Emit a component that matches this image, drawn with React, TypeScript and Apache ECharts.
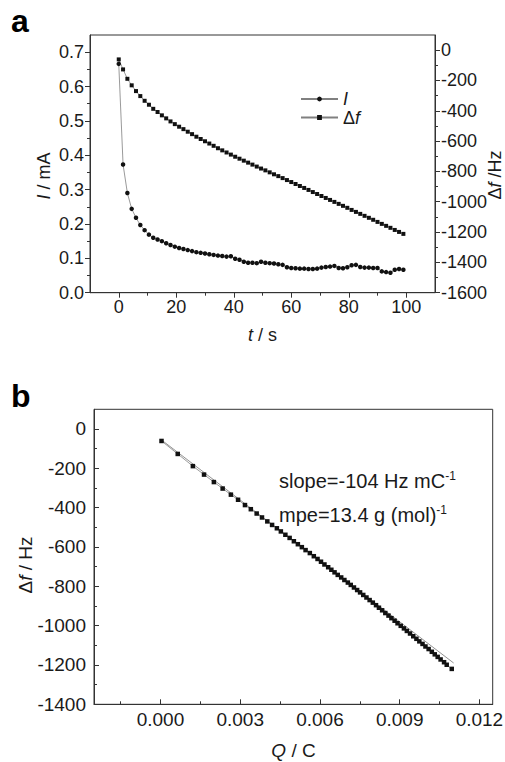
import React, { useEffect, useRef } from "react";
import * as echarts from "echarts";

const FONT = '"Liberation Sans", Arial, Helvetica, sans-serif';
const INK = "#1a1a1a";
const AXIS = "#333";

// ---- Panel a: time series ----
const timeS = [
  0, 1.5, 3, 4.5, 6, 7.5, 9, 10.5, 12, 13.5, 15, 16.5, 18, 19.5, 21, 22.5, 24, 25.5, 27, 28.5,
  30, 31.5, 33, 34.5, 36, 37.5, 39, 40.5, 42, 43.5, 45, 46.5, 48, 49.5, 51, 52.5, 54, 55.5, 57, 58.5,
  60, 61.5, 63, 64.5, 66, 67.5, 69, 70.5, 72, 73.5, 75, 76.5, 78, 79.5, 81, 82.5, 84, 85.5, 87, 88.5,
  90, 91.5, 93, 94.5, 96, 97.5, 99,
];
const currentMA = [
  0.666, 0.373, 0.29, 0.244, 0.218, 0.197, 0.182, 0.169, 0.16, 0.155,
  0.15, 0.144, 0.139, 0.134, 0.13, 0.127, 0.124, 0.121, 0.118, 0.116,
  0.114, 0.112, 0.11, 0.108, 0.107, 0.105, 0.106, 0.099, 0.096, 0.09,
  0.087, 0.087, 0.086, 0.09, 0.087, 0.086, 0.085, 0.083, 0.081, 0.074,
  0.072, 0.071, 0.07, 0.07, 0.069, 0.069, 0.07, 0.073, 0.075, 0.076,
  0.078, 0.072, 0.071, 0.074, 0.08, 0.081, 0.075, 0.073, 0.073, 0.072,
  0.072, 0.062, 0.06, 0.058, 0.067, 0.069, 0.067,
];
const dfTopHz = [
  -61, -127, -189, -232, -270, -303, -334, -360, -387, -408,
  -430, -450, -470, -488, -505, -521, -538, -554, -571, -586,
  -601, -616, -631, -647, -661, -675, -689, -703, -716, -729,
  -742, -755, -768, -781, -793, -806, -819, -831, -844, -857,
  -870, -883, -896, -909, -922, -936, -949, -962, -975, -988,
  -1001, -1014, -1027, -1040, -1054, -1067, -1080, -1093, -1106, -1119,
  -1133, -1146, -1159, -1172, -1186, -1199, -1212,
];

// ---- Panel b: frequency change vs charge ----
const chargeC = [
  0.00004, 0.00065, 0.00122, 0.00164, 0.00201, 0.00234, 0.00265, 0.00292, 0.00318, 0.0034,
  0.00362, 0.00382, 0.00402, 0.0042, 0.00438, 0.00453, 0.0047, 0.00486, 0.00502, 0.00517,
  0.00532, 0.00546, 0.00562, 0.00577, 0.00591, 0.00604, 0.00617, 0.00631, 0.00643, 0.00655,
  0.00667, 0.0068, 0.00692, 0.00705, 0.00716, 0.00728, 0.0074, 0.00751, 0.00763, 0.00775,
  0.00787, 0.00799, 0.00811, 0.00822, 0.00834, 0.00846, 0.00858, 0.00869, 0.00881, 0.00892,
  0.00904, 0.00916, 0.00927, 0.00939, 0.00951, 0.00963, 0.00974, 0.00986, 0.00997, 0.01009,
  0.01021, 0.01032, 0.01043, 0.01054, 0.01067, 0.01077, 0.01096,
];
const dfBottomHz = [
  -61, -127, -189, -232, -270, -303, -334, -360, -387, -408,
  -430, -450, -470, -488, -505, -521, -538, -554, -571, -586,
  -601, -616, -631, -647, -661, -675, -689, -703, -716, -729,
  -742, -755, -768, -781, -793, -806, -819, -831, -844, -857,
  -870, -883, -896, -909, -922, -936, -949, -962, -975, -988,
  -1001, -1014, -1027, -1040, -1054, -1067, -1080, -1093, -1106, -1119,
  -1133, -1146, -1159, -1172, -1186, -1199, -1220,
];
const fitChargeC = [0.00004, 0.01103];
const fitDfHz = [-56, -1190];

// ---- Tick values ----
const tTicks = [0, 20, 40, 60, 80, 100];
const tMinor = [10, 30, 50, 70, 90];
const iTicks = [0, 0.1, 0.2, 0.3, 0.4, 0.5, 0.6, 0.7];
const iMinor = [0.05, 0.15, 0.25, 0.35, 0.45, 0.55, 0.65];
const dfTicks = [-1600, -1400, -1200, -1000, -800, -600, -400, -200, 0];
const dfMinor = [-1500, -1300, -1100, -900, -700, -500, -300, -100];
const qTicks = [0, 0.003, 0.006, 0.009, 0.012];
const qMinor = [-0.0015, 0.0015, 0.0045, 0.0075, 0.0105];
const dfBTicks = [-1400, -1200, -1000, -800, -600, -400, -200, 0];
const dfBMinor = [-1300, -1100, -900, -700, -500, -300, -100];

function majorAxis(o: any) {
  return {
    type: "value",
    gridIndex: o.grid,
    position: o.position,
    min: o.min,
    max: o.max,
    axisLine: { show: true, onZero: false, lineStyle: { color: AXIS, width: 1 } },
    axisTick: {
      show: true,
      inside: o.inside,
      length: 5,
      customValues: o.ticks,
      lineStyle: { color: AXIS, width: 1 },
    },
    axisLabel: {
      show: true,
      customValues: o.ticks,
      formatter: o.fmt,
      margin: o.margin,
      fontSize: o.fontSize,
      color: INK,
      fontFamily: FONT,
    },
    splitLine: { show: false },
    minorTick: { show: false },
  };
}

function minorAxis(o: any) {
  return {
    type: "value",
    gridIndex: o.grid,
    position: o.position,
    min: o.min,
    max: o.max,
    axisLine: { show: false, onZero: false },
    axisTick: {
      show: true,
      inside: o.inside,
      length: 3,
      customValues: o.ticks,
      lineStyle: { color: AXIS, width: 1 },
    },
    axisLabel: { show: false },
    splitLine: { show: false },
  };
}

const richBase = (size: number) => ({
  n: { fontSize: size, fontFamily: FONT, fill: INK },
  i: { fontSize: size, fontFamily: FONT, fontStyle: "italic", fill: INK },
});

export default function App() {
  const ref = useRef<HTMLDivElement>(null);

  useEffect(() => {
    if (!ref.current) return;
    const chart = echarts.init(ref.current, null, { renderer: "svg" });

    const lineStyle = { color: "#808080", width: 0.8 };
    const option: any = {
      animation: false,
      backgroundColor: "#ffffff",
      textStyle: { fontFamily: FONT },
      grid: [
        {
          left: 90, top: 35, width: 345, height: 257.7,
          show: true, borderColor: AXIS, borderWidth: 1, backgroundColor: "transparent",
          containLabel: false, outerBoundsMode: "none",
        },
        {
          left: 94, top: 409.3, width: 398.7, height: 295,
          show: true, borderColor: AXIS, borderWidth: 1, backgroundColor: "transparent",
          containLabel: false, outerBoundsMode: "none",
        },
      ],
      xAxis: [
        majorAxis({ grid: 0, position: "bottom", min: -10, max: 110, inside: false, ticks: tTicks,
          fmt: (v: number) => String(v), margin: 5, fontSize: 18 }),
        minorAxis({ grid: 0, position: "bottom", min: -10, max: 110, inside: false, ticks: tMinor }),
        majorAxis({ grid: 1, position: "bottom", min: -0.0025, max: 0.0125, inside: true, ticks: qTicks,
          fmt: (v: number) => v.toFixed(3), margin: 6, fontSize: 19 }),
        minorAxis({ grid: 1, position: "bottom", min: -0.0025, max: 0.0125, inside: true, ticks: qMinor }),
      ],
      yAxis: [
        majorAxis({ grid: 0, position: "left", min: 0, max: 0.75, inside: false, ticks: iTicks,
          fmt: (v: number) => v.toFixed(1), margin: 6, fontSize: 18 }),
        minorAxis({ grid: 0, position: "left", min: 0, max: 0.75, inside: false, ticks: iMinor }),
        majorAxis({ grid: 0, position: "right", min: -1600, max: 100, inside: false, ticks: dfTicks,
          fmt: (v: number) => String(v), margin: 6, fontSize: 18 }),
        minorAxis({ grid: 0, position: "right", min: -1600, max: 100, inside: false, ticks: dfMinor }),
        majorAxis({ grid: 1, position: "left", min: -1400, max: 100, inside: true, ticks: dfBTicks,
          fmt: (v: number) => String(v), margin: 8, fontSize: 19 }),
        minorAxis({ grid: 1, position: "left", min: -1400, max: 100, inside: true, ticks: dfBMinor }),
      ],
      legend: {
        show: true,
        orient: "vertical",
        left: 295,
        top: 85,
        itemWidth: 37,
        itemHeight: 6,
        itemGap: 0.5,
        selectedMode: false,
        data: ["I", "Δf"],
        formatter: (name: string) => (name === "I" ? "{i|I}" : "{n|Δ}{i|f}"),
        textStyle: {
          fontSize: 18,
          lineHeight: 18,
          color: INK,
          fontFamily: FONT,
          rich: {
            n: { fontSize: 18, lineHeight: 18, fontFamily: FONT, color: INK },
            i: { fontSize: 18, lineHeight: 18, fontFamily: FONT, fontStyle: "italic", color: INK },
          },
        },
      },
      series: [
        {
          name: "I",
          type: "line",
          xAxisIndex: 0,
          yAxisIndex: 0,
          data: timeS.map((t, k) => [t, currentMA[k]]),
          symbol: "circle",
          symbolSize: 4.5,
          itemStyle: { color: "#111" },
          lineStyle,
          clip: false,
        },
        {
          name: "Δf",
          type: "line",
          xAxisIndex: 0,
          yAxisIndex: 2,
          data: timeS.map((t, k) => [t, dfTopHz[k]]),
          symbol: "rect",
          symbolSize: 4,
          itemStyle: { color: "#111" },
          lineStyle,
          clip: false,
        },
        {
          name: "fit",
          type: "line",
          xAxisIndex: 2,
          yAxisIndex: 4,
          data: fitChargeC.map((q, k) => [q, fitDfHz[k]]),
          symbol: "none",
          lineStyle: { color: "#777", width: 0.8 },
          z: 1,
        },
        {
          name: "Δf(Q)",
          type: "line",
          xAxisIndex: 2,
          yAxisIndex: 4,
          data: chargeC.map((q, k) => [q, dfBottomHz[k]]),
          symbol: "rect",
          symbolSize: 4.5,
          itemStyle: { color: "#111" },
          lineStyle,
          z: 2,
        },
      ],
      graphic: [
        { type: "text", x: 11, y: 21, style: { text: "a", fontSize: 32, fontWeight: "bold", fontFamily: FONT, fill: "#000", align: "left", verticalAlign: "middle" } },
        { type: "text", x: 11, y: 396, style: { text: "b", fontSize: 32, fontWeight: "bold", fontFamily: FONT, fill: "#000", align: "left", verticalAlign: "middle" } },
        { type: "text", x: 44, y: 176, rotation: Math.PI / 2,
          style: { text: "{i|I}{n| / mA}", rich: richBase(18), align: "center", verticalAlign: "middle" } },
        { type: "text", x: 495, y: 175, rotation: Math.PI / 2,
          style: { text: "{n|Δ}{i|f}{n| /Hz}", rich: richBase(18), align: "center", verticalAlign: "middle" } },
        { type: "text", x: 262.5, y: 335,
          style: { text: "{i|t}{n| / s}", rich: richBase(18), align: "center", verticalAlign: "middle" } },
        { type: "text", x: 25, y: 565, rotation: Math.PI / 2,
          style: { text: "{n|Δ}{i|f}{n| / Hz}", rich: richBase(19), align: "center", verticalAlign: "middle" } },
        { type: "text", x: 293.5, y: 750,
          style: { text: "{i|Q}{n| / C}", rich: richBase(19), align: "center", verticalAlign: "middle" } },
        { type: "text", x: 279, y: 481,
          style: {
            text: "{n|slope=-104 Hz mC}{s|-1}",
            align: "left", verticalAlign: "middle",
            rich: {
              n: { fontSize: 20, lineHeight: 22, fontFamily: FONT, fill: INK },
              s: { fontSize: 12, lineHeight: 22, fontFamily: FONT, fill: INK, verticalAlign: "top" },
            },
          } },
        { type: "text", x: 279, y: 515,
          style: {
            text: "{n|mpe=13.4 g (mol)}{s|-1}",
            align: "left", verticalAlign: "middle",
            rich: {
              n: { fontSize: 20, lineHeight: 22, fontFamily: FONT, fill: INK },
              s: { fontSize: 12, lineHeight: 22, fontFamily: FONT, fill: INK, verticalAlign: "top" },
            },
          } },
      ],
    };

    chart.setOption(option);
    return () => chart.dispose();
  }, []);

  return (
    <div
      ref={ref}
      style={{ position: "absolute", left: 0, top: 0, width: 505, height: 762, background: "#fff" }}
    />
  );
}
